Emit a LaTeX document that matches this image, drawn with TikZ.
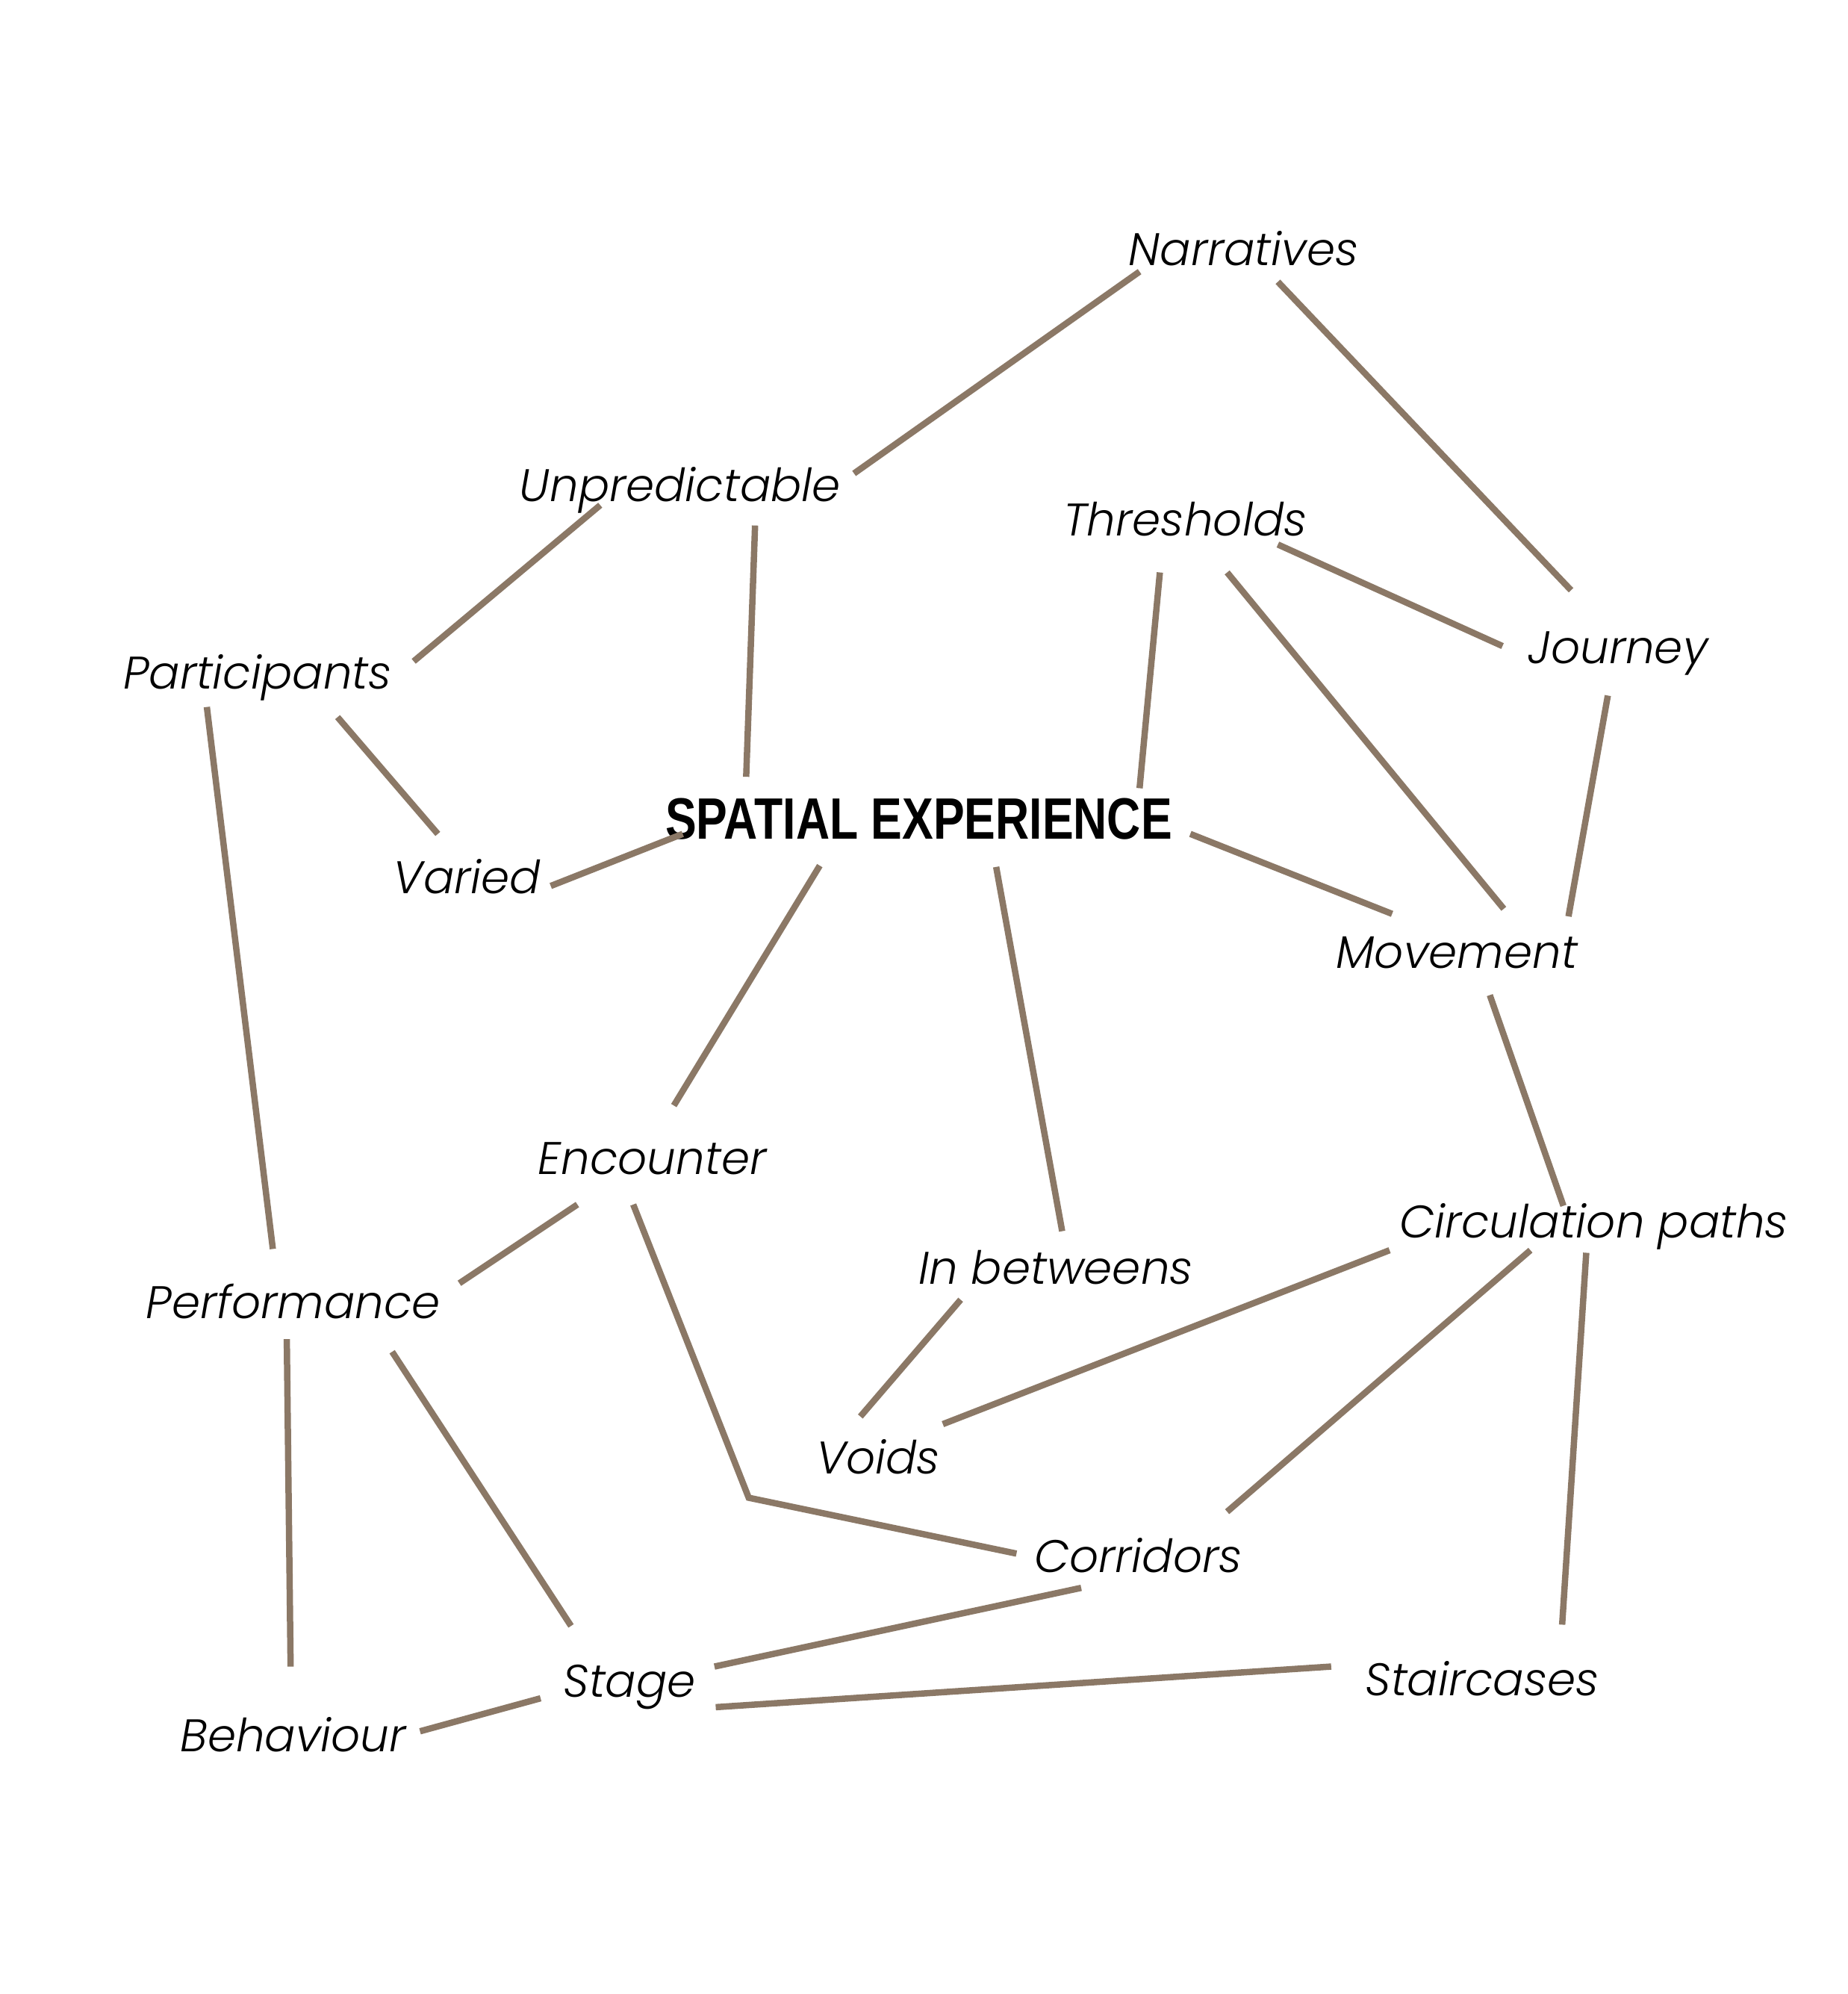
\documentclass[tikz,border=0pt]{standalone}
\usepackage{fontspec}
\setmainfont{Poppins}[UprightFont=* Light, ItalicFont=* Light Italic, BoldFont=* Medium]
\newfontfamily\ctrfont[FakeStretch=0.8]{Liberation Sans}
\definecolor{linkcol}{HTML}{8B7866}
\tikzset{
  lbl/.style={font=\fontsize{18}{20}\selectfont\itshape, inner sep=0pt, text=black, text height=13pt, text depth=0pt},
  ctr/.style={font=\ctrfont\bfseries\fontsize{23}{26}\selectfont, inner sep=0pt, text=black},
  link/.style={draw=linkcol, line width=2.5pt},
}
\begin{document}
\begin{tikzpicture}[x=0.5pt,y=-0.5pt]
\useasboundingbox[fill=white] (0,0) rectangle (1456,1571);
% labels
\node[lbl] (narr) at (980,196) {Narratives};
\node[lbl] (unpr) at (536,382) {Unpredictable};
\node[lbl] (thre) at (934,409) {Thresholds};
\node[lbl] (jour) at (1275,510) {Journey};
\node[lbl] (part) at (203,530) {Participants};
\node[ctr] (spat) at (724,645) {SPATIAL EXPERIENCE};
\node[lbl] (vari) at (368,691) {Varied};
\node[lbl] (move) at (1148,750) {Movement};
\node[lbl] (enco) at (514,912) {Encounter};
\node[lbl] (circ) at (1256,962) {Circulation paths};
\node[lbl] (inbe) at (832,999) {In betweens};
\node[lbl] (perf) at (231,1026) {Performance};
\node[lbl] (void) at (692,1148) {Voids};
\node[lbl] (corr) at (897,1226) {Corridors};
\node[lbl] (stag) at (496,1324) {Stage};
\node[lbl] (stai) at (1168,1323) {Staircases};
\node[lbl] (beha) at (231,1367) {Behaviour};
% connector ends
\coordinate (narr-a) at (898,214); \coordinate (unpr-a) at (673,373);
\coordinate (narr-b) at (1007,222); \coordinate (jour-a) at (1238,465);
\coordinate (unpr-b) at (473,398); \coordinate (part-a) at (326,521);
\coordinate (unpr-c) at (595,414); \coordinate (spat-a) at (588,612);
\coordinate (thre-a) at (1007,429); \coordinate (jour-b) at (1184,509);
\coordinate (thre-b) at (914,451); \coordinate (spat-b) at (898,621);
\coordinate (thre-c) at (967,451); \coordinate (move-a) at (1185,716);
\coordinate (jour-c) at (1267,548); \coordinate (move-b) at (1236,722);
\coordinate (part-b) at (266,565); \coordinate (vari-a) at (345,657);
\coordinate (part-c) at (163,557); \coordinate (perf-a) at (215,984);
\coordinate (vari-b) at (434,698); \coordinate (spat-c) at (538,657);
\coordinate (spat-d) at (938,657); \coordinate (move-c) at (1097,720);
\coordinate (spat-e) at (646,682); \coordinate (enco-a) at (531,871);
\coordinate (spat-f) at (785,683); \coordinate (inbe-a) at (837,970);
\coordinate (move-d) at (1174,784); \coordinate (circ-a) at (1232,950);
\coordinate (enco-b) at (455,949); \coordinate (perf-b) at (362,1011);
\coordinate (enco-c) at (499,949); \coordinate (bend) at (590,1180); \coordinate (corr-a) at (801,1224);
\coordinate (inbe-b) at (757,1024); \coordinate (void-a) at (678,1116);
\coordinate (circ-b) at (1095,985); \coordinate (void-b) at (743,1122);
\coordinate (circ-c) at (1206,985); \coordinate (corr-b) at (967,1191);
\coordinate (circ-d) at (1250,987); \coordinate (stai-a) at (1231,1280);
\coordinate (perf-c) at (226,1055); \coordinate (beha-a) at (229,1313);
\coordinate (perf-d) at (309,1065); \coordinate (stag-a) at (450,1281);
\coordinate (corr-c) at (852,1251); \coordinate (stag-b) at (563,1313);
\coordinate (stag-c) at (564,1345); \coordinate (stai-b) at (1049,1313);
\coordinate (beha-b) at (331,1364); \coordinate (stag-d) at (426,1338);
% connectors
\draw[link] (narr-a) -- (unpr-a);
\draw[link] (narr-b) -- (jour-a);
\draw[link] (unpr-b) -- (part-a);
\draw[link] (unpr-c) -- (spat-a);
\draw[link] (thre-a) -- (jour-b);
\draw[link] (thre-b) -- (spat-b);
\draw[link] (thre-c) -- (move-a);
\draw[link] (jour-c) -- (move-b);
\draw[link] (part-b) -- (vari-a);
\draw[link] (part-c) -- (perf-a);
\draw[link] (vari-b) -- (spat-c);
\draw[link] (spat-d) -- (move-c);
\draw[link] (spat-e) -- (enco-a);
\draw[link] (spat-f) -- (inbe-a);
\draw[link] (move-d) -- (circ-a);
\draw[link] (enco-b) -- (perf-b);
\draw[link] (enco-c) -- (bend) -- (corr-a);
\draw[link] (inbe-b) -- (void-a);
\draw[link] (circ-b) -- (void-b);
\draw[link] (circ-c) -- (corr-b);
\draw[link] (circ-d) -- (stai-a);
\draw[link] (perf-c) -- (beha-a);
\draw[link] (perf-d) -- (stag-a);
\draw[link] (corr-c) -- (stag-b);
\draw[link] (stag-c) -- (stai-b);
\draw[link] (beha-b) -- (stag-d);
\end{tikzpicture}
\end{document}
